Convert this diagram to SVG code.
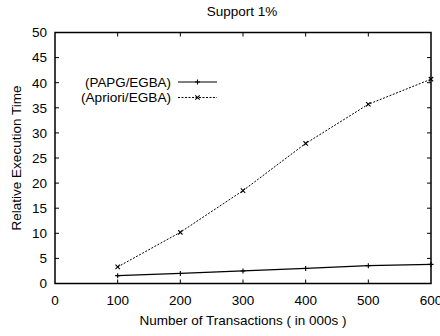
<svg xmlns="http://www.w3.org/2000/svg" width="440" height="336" viewBox="0 0 440 336">
  <style>
    text { font-family: "Liberation Sans", Arial, sans-serif; font-size: 13.5px; fill: #000; }
    .yt { text-anchor: end; }
    .xt { text-anchor: middle; }
    .leg { font-size: 13.5px; text-anchor: end; }
    .frame { fill: none; stroke: #000; stroke-width: 1.5; }
    .tick { stroke: #000; stroke-width: 1; }
    .s1 { fill: none; stroke: #000; stroke-width: 1.2; }
    .s2 { fill: none; stroke: #000; stroke-width: 1; stroke-dasharray: 2 1.5; }
    .mk { stroke: #000; stroke-width: 1.1; fill: none; }
  </style>
  <defs>
    <path id="plus" class="mk" d="M-2.5,0H2.5M0,-2.5V2.5"/>
    <path id="cross" class="mk" d="M-2.2,-2.2L2.2,2.2M-2.2,2.2L2.2,-2.2"/>
  </defs>
  <rect width="440" height="336" fill="#fff"/>

  <!-- title -->
  <text id="title" x="242" y="16" class="xt">Support 1%</text>

  <!-- axes frame and ticks -->
  <g id="axes">
    <rect class="frame" x="55" y="32.5" width="376" height="251"/>
    <g class="tick">
      <path d="M55,258.4h4M55,233.3h4M55,208.2h4M55,183.1h4M55,158h4M55,132.9h4M55,107.8h4M55,82.7h4M55,57.6h4"/>
      <path d="M431,258.4h-4M431,233.3h-4M431,208.2h-4M431,183.1h-4M431,158h-4M431,132.9h-4M431,107.8h-4M431,82.7h-4M431,57.6h-4"/>
      <path d="M117.67,283.5v-4M180.33,283.5v-4M243,283.5v-4M305.67,283.5v-4M368.33,283.5v-4"/>
      <path d="M117.67,32.5v4M180.33,32.5v4M243,32.5v4M305.67,32.5v4M368.33,32.5v4"/>
    </g>
    <g id="yticks">
      <text class="yt" x="47" y="288.3">0</text>
      <text class="yt" x="47" y="263.2">5</text>
      <text class="yt" x="47" y="238.1">10</text>
      <text class="yt" x="47" y="213">15</text>
      <text class="yt" x="47" y="187.9">20</text>
      <text class="yt" x="47" y="162.8">25</text>
      <text class="yt" x="47" y="137.7">30</text>
      <text class="yt" x="47" y="112.6">35</text>
      <text class="yt" x="47" y="87.5">40</text>
      <text class="yt" x="47" y="62.4">45</text>
      <text class="yt" x="47" y="37.3">50</text>
    </g>
    <g id="xticks">
      <text class="xt" x="55" y="305">0</text>
      <text class="xt" x="117.67" y="305">100</text>
      <text class="xt" x="180.33" y="305">200</text>
      <text class="xt" x="243" y="305">300</text>
      <text class="xt" x="305.67" y="305">400</text>
      <text class="xt" x="368.33" y="305">500</text>
      <text class="xt" x="431" y="305">600</text>
    </g>
    <text id="xlabel" class="xt" x="243" y="325">Number of Transactions ( in 000s )</text>
    <text id="ylabel" class="xt" transform="translate(20.5,158) rotate(-90)">Relative Execution Time</text>
  </g>

  <!-- data series -->
  <g id="series">
    <g id="papg">
      <polyline class="s1" points="117.67,275.67 180.33,273.46 243,270.95 305.67,268.44 368.33,265.63 431,264.42"/>
      <use href="#plus" x="117.67" y="275.67"/>
      <use href="#plus" x="180.33" y="273.46"/>
      <use href="#plus" x="243" y="270.95"/>
      <use href="#plus" x="305.67" y="268.44"/>
      <use href="#plus" x="368.33" y="265.63"/>
      <use href="#plus" x="431" y="264.42"/>
    </g>
    <g id="apriori">
      <polyline class="s2" points="117.67,266.93 180.33,232.3 243,190.63 305.67,143.44 368.33,104.28 431,79.19"/>
      <use href="#cross" x="117.67" y="266.93"/>
      <use href="#cross" x="180.33" y="232.3"/>
      <use href="#cross" x="243" y="190.63"/>
      <use href="#cross" x="305.67" y="143.44"/>
      <use href="#cross" x="368.33" y="104.28"/>
      <use href="#cross" x="431" y="79.19"/>
    </g>
  </g>

  <!-- key -->
  <g id="legend">
    <text class="leg" x="171" y="86.8" textLength="86" lengthAdjust="spacingAndGlyphs">(PAPG/EGBA)</text>
    <path class="s1" d="M178,82H217"/>
    <use href="#plus" x="197.5" y="82"/>
    <text class="leg" x="171" y="102" textLength="90" lengthAdjust="spacingAndGlyphs">(Apriori/EGBA)</text>
    <path class="s2" d="M178,97.5H217"/>
    <use href="#cross" x="197.5" y="97.5"/>
  </g>
</svg>
